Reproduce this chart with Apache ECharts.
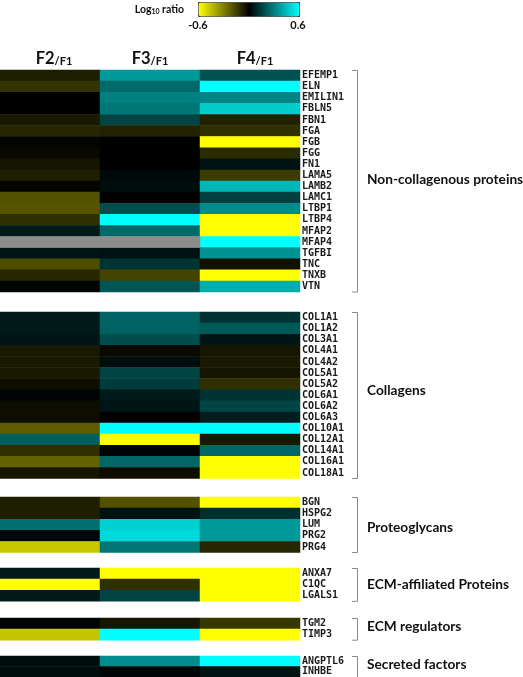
<!DOCTYPE html>
<html>
<head>
<meta charset="utf-8">
<script src="https://cdn.jsdelivr.net/npm/echarts@6/dist/echarts.min.js"></script>
<style>
  html, body { margin: 0; padding: 0; background: #fff; }
  #chart { width: 523px; height: 677px; }
</style>
</head>
<body>
<div id="chart"></div>
<script>
// columns: log10 ratio of each fraction vs F1
const columns = ['F2', 'F3', 'F4'];

// each row is [F2/F1, F3/F1, F4/F1], null = not detected (grey)
const nonCollGenes = ['EFEMP1', 'ELN', 'EMILIN1', 'FBLN5', 'FBN1', 'FGA', 'FGB', 'FGG', 'FN1', 'LAMA5',
  'LAMB2', 'LAMC1', 'LTBP1', 'LTBP4', 'MFAP2', 'MFAP4', 'TGFBI', 'TNC', 'TNXB', 'VTN'];
const nonCollValues = [
  [-0.07, 0.36, 0.19], [-0.12, 0.25, 0.6], [0.0, 0.3, 0.31], [0.0, 0.28, 0.48], [-0.06, 0.16, -0.08],
  [-0.09, -0.08, -0.11], [-0.01, 0.0, -0.6], [-0.02, 0.0, -0.1], [-0.05, 0.0, 0.04], [-0.07, 0.02, -0.14],
  [-0.01, 0.03, 0.43], [-0.19, 0.0, 0.15], [-0.2, 0.18, 0.33], [-0.11, 0.6, -0.6], [0.06, 0.25, -0.6],
  [null, null, 0.6], [0.05, 0.04, 0.34], [-0.18, 0.12, -0.04], [-0.09, -0.16, -0.6], [0.01, 0.2, 0.41]
];

const collGenes = ['COL1A1', 'COL1A2', 'COL3A1', 'COL4A1', 'COL4A2', 'COL5A1', 'COL5A2', 'COL6A1', 'COL6A2',
  'COL6A3', 'COL10A1', 'COL12A1', 'COL14A1', 'COL16A1', 'COL18A1'];
const collValues = [
  [0.06, 0.23, 0.12], [0.06, 0.23, 0.21], [0.05, 0.18, 0.05], [-0.06, -0.02, -0.05], [-0.06, 0.03, -0.06],
  [-0.06, 0.16, -0.05], [-0.03, 0.14, -0.11], [0.01, 0.06, 0.12], [-0.03, 0.05, 0.16], [-0.03, 0.0, 0.07],
  [-0.22, 0.6, 0.6], [0.22, -0.6, -0.06], [-0.11, 0.01, 0.24], [-0.23, 0.24, -0.6], [-0.05, -0.03, -0.6]
];

const proteoGenes = ['BGN', 'HSPG2', 'LUM', 'PRG2', 'PRG4'];
const proteoValues = [
  [-0.07, -0.19, -0.6], [-0.07, 0.04, 0.11], [0.26, 0.49, 0.36], [0.02, 0.51, 0.36], [-0.47, 0.28, -0.09]
];

const affilGenes = ['ANXA7', 'C1QC', 'LGALS1'];
const affilValues = [[0.06, -0.6, -0.6], [-0.6, -0.11, -0.6], [0.06, 0.16, -0.6]];

const regGenes = ['TGM2', 'TIMP3'];
const regValues = [[0.01, -0.05, -0.13], [-0.46, 0.6, -0.6]];

const secGenes = ['ANGPTL6', 'INHBE'];
const secValues = [[0.03, 0.33, 0.6], [0.03, 0.01, 0.04]];

const groupNames = ['Non-collagenous proteins', 'Collagens', 'Proteoglycans',
  'ECM-affiliated Proteins', 'ECM regulators', 'Secreted factors'];

const groups = [
  [nonCollGenes, nonCollValues], [collGenes, collValues], [proteoGenes, proteoValues],
  [affilGenes, affilValues], [regGenes, regValues], [secGenes, secValues]
];

// layout
const blockTops = [70, 312, 497, 568, 618, 656];
const labelYs = [182, 393, 530, 587, 629, 667];
const rowH = 11.1;

var myChart = echarts.init(document.getElementById('chart'));

const grids = [], xAxes = [], yAxes = [], series = [], graphics = [];
const missing = [];

groups.forEach(function (g, i) {
  const genes = g[0], vals = g[1];
  const top = blockTops[i], h = genes.length * rowH;
  grids.push({ left: 0, width: 300, top: top, height: h });
  xAxes.push({ type: 'category', gridIndex: i, data: columns, show: false });
  yAxes.push({
    type: 'category', gridIndex: i, data: genes, inverse: true, position: 'right',
    axisLine: { show: false }, axisTick: { show: false },
    axisLabel: {
      interval: 0, margin: 2, color: '#1a1a1a',
      fontFamily: 'DejaVu Sans Mono', fontSize: 10, fontWeight: 'bold'
    }
  });
  const data = [];
  vals.forEach(function (row, r) {
    row.forEach(function (v, c) {
      if (v === null) {
        if (i === 0) missing.push([c, r, 0]);
      } else {
        data.push([c, r, v]);
      }
    });
  });
  series.push({ type: 'heatmap', xAxisIndex: i, yAxisIndex: i, data: data, silent: true });

  // bracket
  const bottom = top + h;
  graphics.push({
    type: 'polyline', silent: true,
    shape: { points: [[352, top + 0.5], [357.5, top + 0.5], [357.5, bottom], [352, bottom]] },
    style: { stroke: '#8a8a8a', lineWidth: 1, fill: null }
  });
  graphics.push({
    type: 'text', left: 367, top: labelYs[i] - 9,
    style: { text: groupNames[i], font: 'bold 13.7px Lato', fill: '#111' }
  });
});

// not-detected cells in grey
series.push({
  type: 'heatmap', xAxisIndex: 0, yAxisIndex: 0, data: missing, silent: true,
  itemStyle: { color: '#8c8c8c' }
});

// column headers
const headerX = [54, 150, 255];
columns.forEach(function (c, i) {
  graphics.push({
    type: 'text', x: headerX[i], y: 67,
    style: {
      text: '{a|' + c + '}{b|/F1}',
      align: 'center', verticalAlign: 'bottom',
      rich: {
        a: { font: 'bold 16.5px Lato', fill: '#111', verticalAlign: 'bottom', lineHeight: 18 },
        b: { font: 'bold 11px Lato', fill: '#111', verticalAlign: 'bottom', lineHeight: 15 }
      }
    }
  });
});

// colour bar labels
graphics.push({
  type: 'text', x: 184, y: 9,
  style: {
    text: '{a|Log}{s|10}{a| ratio}', align: 'right', verticalAlign: 'middle',
    rich: {
      a: { font: 'bold 10.5px Lato', fill: '#111', verticalAlign: 'bottom', lineHeight: 12 },
      s: { font: 'bold 7px Lato', fill: '#111', verticalAlign: 'bottom', lineHeight: 9 }
    }
  }
});
graphics.push({ type: 'text', x: 198, y: 25, style: { text: '-0.6', align: 'center', verticalAlign: 'middle', font: 'bold 11px Lato', fill: '#111' } });
graphics.push({ type: 'text', x: 298, y: 25, style: { text: '0.6', align: 'center', verticalAlign: 'middle', font: 'bold 11px Lato', fill: '#111' } });

var option = {
  animation: false,
  backgroundColor: '#fff',
  grid: grids,
  xAxis: xAxes,
  yAxis: yAxes,
  visualMap: {
    type: 'continuous', min: -0.6, max: 0.6, calculable: false,
    seriesIndex: [0, 1, 2, 3, 4, 5],
    orient: 'horizontal', left: 198, top: 2, padding: 0,
    itemWidth: 14, itemHeight: 101,
    borderColor: '#333', borderWidth: 1,
    inRange: { color: ['#ffff00', '#000000', '#00ffff'] }
  },
  series: series,
  graphic: graphics
};

myChart.setOption(option);
</script>
</body>
</html>
